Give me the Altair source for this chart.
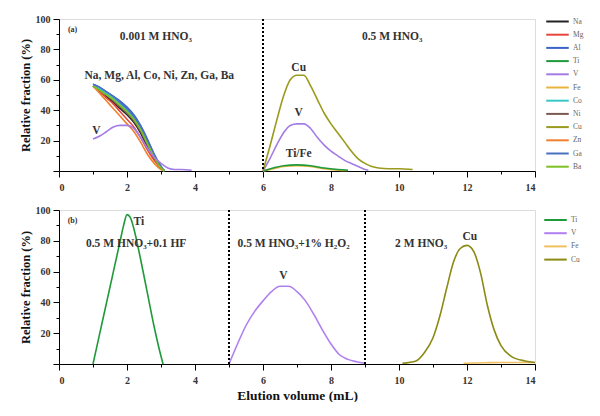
import altair as alt
import pandas as pd

FONT = "Liberation Serif"

# ---------------- Panel (a) data ----------------
A_ELEMENTS = ["Na", "Mg", "Al", "Ti", "V", "Fe", "Co", "Ni", "Cu", "Zn", "Ga", "Ba"]
A_COLORS = ["#222222", "#e8463c", "#3a64c8", "#1f9a3a", "#a47ce6", "#e8b43c",
            "#38c8c8", "#7a5a50", "#9a9a1e", "#f08030", "#4a70c0", "#7cc022"]

# 0.001 M HNO3 stage
A1_X = [1.0, 1.2, 1.4, 1.6, 1.8, 2.0, 2.2, 2.4, 2.6, 2.8, 3.0, 3.1]
A1_NA = [56, 53, 49, 45, 41, 37, 32, 25, 16, 8, 2, 0]
A1_MG = [56, 52, 48, 44, 39, 34, 29, 22, 14, 7, 2, 0]
A1_AL = [57, 55, 52, 49, 46, 42, 37, 30, 21, 11, 3, 0]
A1_CO = [56, 54, 51, 48, 44, 40, 35, 28, 19, 10, 3, 0]
A1_NI = [56, 53, 50, 46, 42, 38, 33, 26, 17, 9, 2, 0]
A1_ZN = [56, 51, 46, 41, 36, 31, 26, 19, 11, 5, 1, 0]
A1_GA = [57, 55, 52, 49, 45, 41, 36, 29, 20, 11, 3, 0]
A1_BA = [56, 53, 50, 47, 43, 39, 34, 27, 18, 9, 2, 0]
A1_V_X = [1.0, 1.2, 1.4, 1.6, 1.8, 2.0, 2.2, 2.4, 2.6, 2.8, 3.0, 3.2, 3.4, 3.6, 3.9]
A1_V = [21, 23, 26, 29, 30, 30, 28, 22, 15, 9, 5, 2, 1, 1, 0.5]

# 0.5 M HNO3 stage
A2_CU_X = [6.0, 6.2, 6.4, 6.6, 6.8, 7.0, 7.2, 7.4, 7.6, 7.8, 8.0, 8.2, 8.4, 8.6,
           8.8, 9.0, 9.2, 9.4, 9.7, 10.0, 10.4]
A2_CU = [0, 16, 33, 49, 60, 63, 63, 56, 47, 38, 31, 25, 19, 13, 8, 5, 3, 2, 1.5, 1.5, 1]
A2_V_X = [6.0, 6.2, 6.4, 6.6, 6.8, 7.0, 7.2, 7.4, 7.6, 7.8, 8.0, 8.2, 8.4, 8.6, 8.8, 9.0, 9.1]
A2_V = [0, 8, 17, 25, 30, 31, 31, 28, 22, 17, 13, 10, 7, 5, 3, 1, 0.5]
A2_TIFE_X = [6.0, 6.3, 6.6, 7.0, 7.4, 7.8, 8.2, 8.5]
A2_TI = [0, 2, 3.5, 4, 3.5, 2, 1, 0.5]
A2_FE = [0, 1.5, 3, 3.5, 3, 1.5, 0.5, 0.3]

A_RULES = [6]
A_TAG = ["(a)"]
A_TAG_X = [0.4]
A_TAG_Y = [93]
A_TEXT = ["0.001 M HNO₃", "0.5 M HNO₃", "Na, Mg, Al, Co, Ni, Zn, Ga, Ba",
          "V", "Cu", "V", "Ti/Fe"]
A_TEXT_X = [2.85, 9.8, 2.95, 1.1, 7.05, 7.05, 7.05]
A_TEXT_Y = [88, 88, 62.5, 26, 68, 38, 11]

# ---------------- Panel (b) data ----------------
B_ELEMENTS = ["Ti", "V", "Fe", "Cu"]
B_COLORS = ["#1f9a3a", "#b080f0", "#f0c060", "#8a8a14"]

B_TI_X = [1.0, 1.2, 1.4, 1.6, 1.8, 1.9, 2.0, 2.1, 2.2, 2.4, 2.6, 2.8, 3.0, 3.06]
B_TI = [0, 20, 40, 60, 80, 90, 97, 95, 88, 68, 46, 24, 5, 0]
B_V_X = [5.0, 5.25, 5.5, 5.75, 6.0, 6.25, 6.5, 6.75, 7.0, 7.25, 7.5, 7.75, 8.0,
         8.25, 8.5, 8.75, 9.0]
B_V = [0, 13, 25, 34, 41, 47, 50.5, 50.5, 47, 41, 32, 22, 13, 6, 3, 1.5, 0.5]
B_FE_X = [11.9, 12.5, 13.0, 13.5, 14.0]
B_FE = [0.5, 0.8, 1, 1, 1]
B_CU_X = [10.1, 10.5, 10.75, 11.0, 11.2, 11.4, 11.6, 11.8, 12.0, 12.2, 12.4, 12.6,
          12.8, 13.0, 13.3, 13.7, 14.0]
B_CU = [0.5, 2, 7.5, 17, 31, 49, 66, 75, 77, 73, 59, 38, 22, 12, 5, 2, 1]

B_RULES = [5, 9]
B_TAG = ["(b)"]
B_TAG_X = [0.4]
B_TAG_Y = [93]
B_TEXT = ["Ti", "0.5 M HNO₃+0.1 HF", "0.5 M HNO₃+1% H₂O₂", "V", "2 M HNO₃", "Cu"]
B_TEXT_X = [2.35, 2.27, 6.9, 6.6, 10.65, 12.08]
B_TEXT_Y = [92, 78, 78, 57, 78, 82.5]


def series_frame(items):
    rows = []
    for el, seg, xs, ys in items:
        for x, y in zip(xs, ys):
            rows.append({"x": x, "y": y, "el": el, "seg": seg})
    return pd.DataFrame(rows)


a_df = series_frame([
    ("Na", "a1", A1_X, A1_NA), ("Mg", "a1", A1_X, A1_MG), ("Al", "a1", A1_X, A1_AL),
    ("Ni", "a1", A1_X, A1_NI), ("Zn", "a1", A1_X, A1_ZN), ("Co", "a1", A1_X, A1_CO),
    ("Ga", "a1", A1_X, A1_GA), ("Ba", "a1", A1_X, A1_BA), ("V", "a1", A1_V_X, A1_V),
    ("Fe", "a2", A2_TIFE_X, A2_FE), ("Ti", "a2", A2_TIFE_X, A2_TI),
    ("V", "a2", A2_V_X, A2_V), ("Cu", "a2", A2_CU_X, A2_CU),
])
b_df = series_frame([
    ("Fe", "b", B_FE_X, B_FE), ("Ti", "b", B_TI_X, B_TI),
    ("V", "b", B_V_X, B_V), ("Cu", "b", B_CU_X, B_CU),
])

X_VALUES = list(range(0, 15))
Y_VALUES = list(range(0, 101, 10))

COMMON = dict(tickSize=6, grid=False, labelOverlap=False, labelFont=FONT,
              labelFontSize=10, labelFontWeight="bold", labelColor="#333",
              domainColor="black", tickColor="black", titleFont=FONT,
              titleFontWeight="bold", titleColor="#111")


def x_axis(title):
    kw = dict(values=X_VALUES, labelExpr="datum.value % 2 === 0 ? datum.label : ' '",
              tickDash={"condition": {"test": "datum.value % 2 !== 0", "value": [3, 10]},
                        "value": [6, 0]},
              labelPadding=5, titleFontSize=13.5, titlePadding=3, **COMMON)
    if title:
        return alt.Axis(title=title, **kw)
    return alt.Axis(title=None, **kw)


y_axis = alt.Axis(title="Relative fraction (%)", values=Y_VALUES,
                  labelExpr="datum.value % 20 === 0 && datum.value > 0 ? datum.label : ' '",
                  tickDash={"condition": {"test": "datum.value % 20 !== 0", "value": [3, 10]},
                            "value": [6, 0]},
                  labelPadding=3, titleFontSize=12.5, titlePadding=3, **COMMON)


def legend(x, y):
    return alt.Legend(orient="none", legendX=x, legendY=y, title=None,
                      symbolType="M-2.5,0H2.5", symbolSize=81, symbolStrokeWidth=2,
                      rowPadding=3.2, labelOffset=10, padding=0,
                      labelFont=FONT, labelFontSize=7.5, labelColor="#666")


def panel(df, elements, colors, rules, tags, tgx, tgy, texts, tx, ty, height, leg, xtitle):
    xs = alt.X("x:Q", scale=alt.Scale(domain=[0, 14], nice=False), axis=x_axis(xtitle))
    ys = alt.Y("y:Q", scale=alt.Scale(domain=[0, 100], nice=False), axis=y_axis)
    lines = alt.Chart(df).mark_line(interpolate="monotone", strokeWidth=1.6).encode(
        x=xs, y=ys,
        color=alt.Color("el:N", scale=alt.Scale(domain=elements, range=colors), legend=leg),
        detail="seg:N",
    )
    rule_df = pd.DataFrame({"x": rules})
    rule_layer = alt.Chart(rule_df).mark_rule(color="black", strokeWidth=2,
                                             strokeDash=[2, 2]).encode(
        x=xs, y=alt.value(0), y2=alt.value(height))
    text_df = pd.DataFrame({"t": texts, "x": tx, "y": ty})
    text_layer = alt.Chart(text_df).mark_text(font=FONT, fontSize=11.5, fontWeight="bold",
                                              color="#333").encode(
        x=xs, y=ys, text="t:N")
    tag_df = pd.DataFrame({"t": tags, "x": tgx, "y": tgy})
    tag_layer = alt.Chart(tag_df).mark_text(font=FONT, fontSize=8, fontWeight="bold",
                                            color="#333").encode(
        x=xs, y=ys, text="t:N")
    return alt.layer(lines, rule_layer, text_layer, tag_layer).properties(width=476, height=height)


top = panel(a_df, A_ELEMENTS, A_COLORS, A_RULES, A_TAG, A_TAG_X, A_TAG_Y,
            A_TEXT, A_TEXT_X, A_TEXT_Y, 152, legend(493, -3), None)
bottom = panel(b_df, B_ELEMENTS, B_COLORS, B_RULES, B_TAG, B_TAG_X, B_TAG_Y,
               B_TEXT, B_TEXT_X, B_TEXT_Y, 154, legend(491, 4.5), "Elution volume (mL)")

chart = alt.vconcat(top, bottom, spacing=11).resolve_scale(color="independent").properties(
    padding={"left": 10, "top": 5, "right": 0, "bottom": 0}
).configure_view(stroke="black", strokeWidth=1).configure(background="white")

chart.save("out.html", embed_options={"renderer": "svg", "actions": False})
